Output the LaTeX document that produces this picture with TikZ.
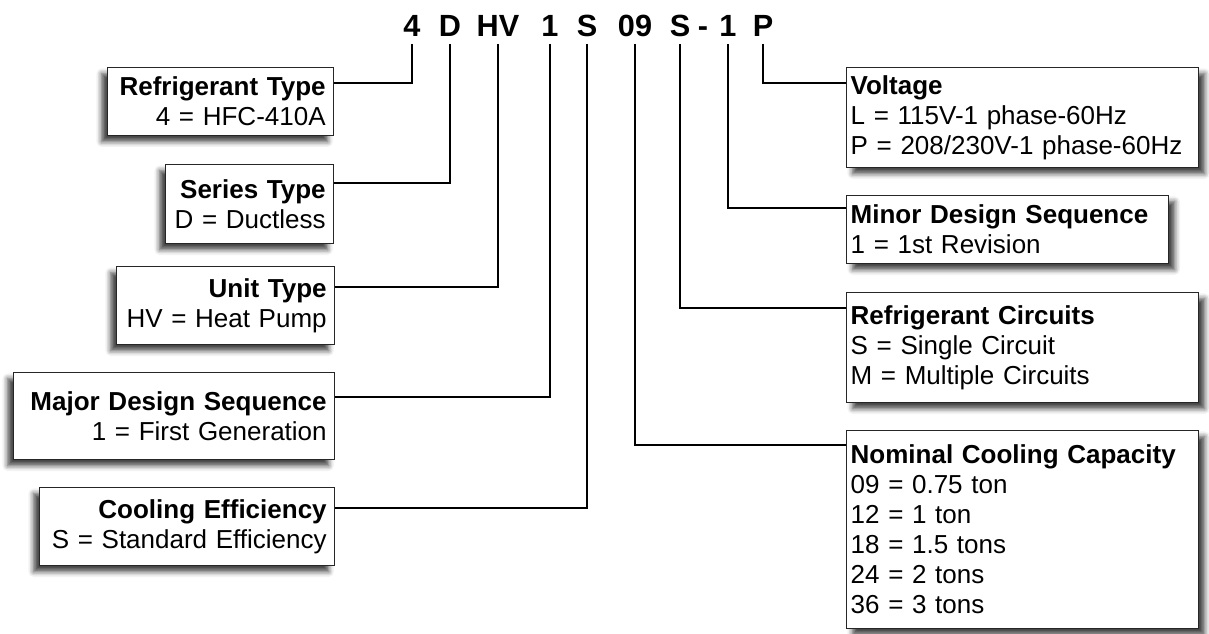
\documentclass[tikz,border=0pt]{standalone}
\usepackage{fontspec}
\setmainfont{Liberation Sans}
\usetikzlibrary{shadows.blur}

\tikzset{
  code/.style={font=\bfseries\fontsize{23}{24}\selectfont, anchor=base,
               inner sep=5pt, text height=16pt, text depth=0pt},
  infobox/.style={draw=black!85, line width=1pt, fill=white, anchor=north west,
               font=\fontsize{19.5}{22.5}\selectfont, inner ysep=4pt},
  leftbox/.style={infobox, align=right, inner xsep=6pt,
               blur shadow={shadow xshift=-4.5pt, shadow yshift=-4.5pt,
                            shadow blur radius=4pt, shadow opacity=75}},
  rightbox/.style={infobox, align=left, inner xsep=3pt,
               blur shadow={shadow xshift=4.5pt, shadow yshift=-4.5pt,
                            shadow blur radius=4pt, shadow opacity=75}},
  link/.style={line width=1.5pt}
}

\begin{document}
\begin{tikzpicture}[x=0.75pt, y=-0.75pt]

      \useasboundingbox (0,0) rectangle (1209,634);

      % Model number
      \node[code] (c4)   at (412,37) {4};
      \node[code] (cD)   at (450,37) {D};
      \node[code] (cHV)  at (498,37) {HV};
      \node[code] (c1)   at (550,37) {1};
      \node[code] (cS)   at (587,37) {S};
      \node[code] (c09)  at (635,37) {09};
      \node[code] (cS2)  at (680,37) {S};
      \node[code] (dash) at (703,37) {-};
      \node[code] (c1b)  at (728,37) {1};
      \node[code] (cP)   at (763,37) {P};

      % Left boxes
      \node[leftbox, text width=157.5pt, minimum height=51pt]    (rt)  at (107,67)
          {\textbf{Refrigerant Type}\\4 = HFC-410A};
      \node[leftbox, text width=114pt, minimum height=59.25pt]   (st)  at (165,164)
          {\textbf{Series Type}\\D = Ductless};
      \node[leftbox, text width=151.5pt, minimum height=58.5pt]  (ut)  at (116,266)
          {\textbf{Unit Type}\\HV = Heat Pump};
      \node[leftbox, text width=228.75pt, minimum height=65.25pt] (mds) at (13,372)
          {\textbf{Major Design Sequence}\\1 = First Generation};
      \node[leftbox, text width=209.25pt, minimum height=58.5pt] (ce)  at (39,487)
          {\textbf{Cooling Efficiency}\\S = Standard Efficiency};

      % Right boxes
      \node[rightbox, text width=258pt, minimum height=75pt]     (vt)  at (846,67)
          {\textbf{Voltage}\\L = 115V-1 phase-60Hz\\P = 208/230V-1 phase-60Hz};
      \node[rightbox, text width=235.5pt, minimum height=51pt]   (mns) at (846,195)
          {\textbf{Minor Design Sequence}\\1 = 1st Revision};
      \node[rightbox, text width=258pt, minimum height=82.5pt]   (rc)  at (846,292)
          {\textbf{Refrigerant Circuits}\\S = Single Circuit\\M = Multiple Circuits};
      \node[rightbox, text width=258pt, minimum height=148.5pt]  (ncc) at (846,430)
          {\textbf{Nominal Cooling Capacity}\\09 = 0.75 ton\\12 = 1 ton\\18 = 1.5 tons\\24 = 2 tons\\36 = 3 tons};

      % Connect the digits to the boxes
      \draw[link] (c4.south)  |- ([yshift=-12pt]rt.north east);
      \draw[link] (cD.south)  |- ([yshift=-14.25pt]st.north east);
      \draw[link] (cHV.south) |- ([yshift=-15.75pt]ut.north east);
      \draw[link] (c1.south)  |- ([yshift=-18.75pt]mds.north east);
      \draw[link] (cS.south)  |- ([yshift=-15.75pt]ce.north east);
      \draw[link] (cP.south)  |- ([yshift=-12pt]vt.north west);
      \draw[link] (c1b.south) |- ([yshift=-9.75pt]mns.north west);
      \draw[link] (cS2.south) |- ([yshift=-12pt]rc.north west);
      \draw[link] (c09.south) |- ([yshift=-11.25pt]ncc.north west);

\end{tikzpicture}
\end{document}
